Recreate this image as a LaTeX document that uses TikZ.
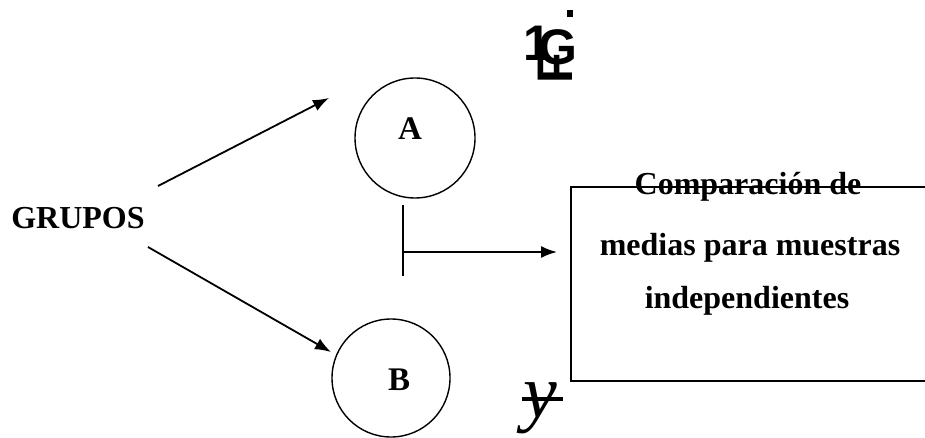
\documentclass[tikz,border=0pt]{standalone}
\usepackage{fontspec}
\setmainfont{Liberation Serif}
\setsansfont{Liberation Sans}
\usetikzlibrary{arrows.meta}
\begin{document}
\begin{tikzpicture}[x=1pt,y=-1pt,
  lbl/.style={font=\fontsize{32}{36}\selectfont\bfseries, inner sep=0pt},
  circlbl/.style={font=\fontsize{33}{36}\selectfont\bfseries, inner sep=0pt},
  circ/.style={circle, draw, line width=1.4pt, inner sep=0pt},
  conn/.style={line width=1.8pt, -{Latex[length=16pt,width=12pt]}},
  plain/.style={line width=1.8pt},
  glyph/.style={font=\fontsize{50}{50}\selectfont\sffamily\bfseries, inner sep=0pt}]
\useasboundingbox (0,0) rectangle (925,438);
% title glyph pile
\node[glyph] (g1) at (537,43) {1};
\node[glyph] (g2) at (558,47) {G};
\node[glyph, rotate=90] (g3) at (555,68) {F};
\fill (567,10) rectangle (573,17);
% nodes
\node[lbl] (grupos) at (78,218) {GRUPOS};
\node[circ, minimum size=120pt] (ca) at (415,138) {};
\node[circlbl] (A) at (410,129) {A};
\node[circ, minimum size=118pt] (cb) at (391,378) {};
\node[circlbl] (B) at (399,380) {B};
% box
\coordinate (bx1) at (925,187);
\coordinate (bx2) at (571,187);
\coordinate (bx3) at (571,381);
\coordinate (bx4) at (925,381);
\draw[line width=1.4pt] (bx1) -- (bx2) -- (bx3) -- (bx4);
\node[lbl] (t1) at (748,187) {Comparación de};
\node[lbl] (t2) at (750,248) {medias para muestras};
\node[lbl] (t3) at (747,301) {independientes};
% connectors
\coordinate (s1) at (158,186);
\coordinate (e1) at (329,98);
\coordinate (s2) at (148,247);
\coordinate (e2) at (331,352);
\draw[conn] (s1) -- (e1);
\draw[conn] (s2) -- (e2);
\coordinate (v1) at (403,205);
\coordinate (v2) at (403,276);
\coordinate (h1) at (403,252);
\coordinate (h2) at (557,252);
\draw[plain] (v1) -- (v2);
\draw[conn] (h1) -- (h2);
% struck y
\node[font=\fontsize{76}{76}\selectfont\itshape, inner sep=0pt] (yy) at (540,408) {y};
\coordinate (y1) at (522,399);
\coordinate (y2) at (563,399);
\draw[line width=4.5pt] (y1) -- (y2);
\end{tikzpicture}
\end{document}
